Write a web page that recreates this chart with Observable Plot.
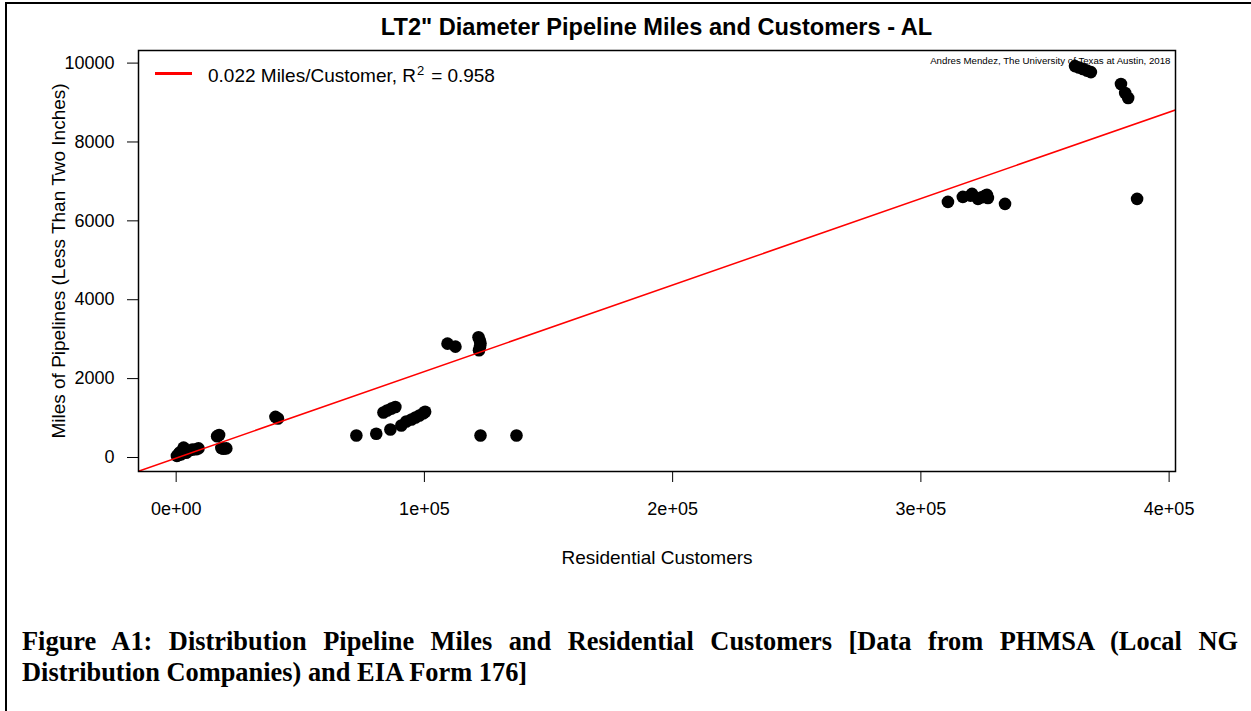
<!DOCTYPE html>
<html>
<head>
<meta charset="utf-8">
<script src="https://cdn.jsdelivr.net/npm/d3@7"></script>
<script src="https://cdn.jsdelivr.net/npm/@observablehq/plot@0.6"></script>
<style>
  html, body { margin: 0; padding: 0; background: #fff; }
  #page { position: relative; width: 1251px; height: 711px; overflow: hidden; font-family: "Liberation Sans", Arial, sans-serif; }
  #border { position: absolute; left: 5px; top: 2px; width: 1260px; height: 720px; border-left: 2px solid #000; border-top: 2px solid #000; }
  #chart { position: absolute; left: 0; top: 0; }
  #title { position: absolute; left: 138px; width: 1037px; top: 15px; line-height: 24px; text-align: center; font-weight: bold; font-size: 23.6px; white-space: nowrap; }
  #legline { position: absolute; left: 155px; top: 72px; width: 37px; height: 3px; background: #ff0000; }
  #legend { position: absolute; left: 208px; top: 65.5px; font-size: 19px; line-height: 19px; white-space: nowrap; }
  #legend sup { font-size: 13px; vertical-align: 0.5em; line-height: 0; margin-left: 1px; }
  #legend .eq { margin-left: 7px; }
  #legend .val { margin-left: 5px; }
  #caption { position: absolute; left: 22px; width: 1216px; top: 626px; font-family: "Liberation Serif", "Times New Roman", serif; font-weight: bold; font-size: 26.4px; line-height: 31px; text-align: justify; }
</style>
</head>
<body>
<div id="page">
  <div id="border"></div>
  <div id="chart"></div>
  <div id="title"></div>
  <div id="legline"></div>
  <div id="legend"><span id="legA"></span><sup id="legSup"></sup><span class="eq" id="legEq"></span><span class="val" id="legVal"></span></div>
  <div id="caption"></div>
</div>
<script>
// ---- data ----
const titleText = "LT2\" Diameter Pipeline Miles and Customers - AL";
const xLabel = "Residential Customers";
const yLabel = "Miles of Pipelines (Less Than Two Inches)";
const legendParts = ["0.022 Miles/Customer, R", "2", "=", "0.958"];
const creditText = "Andres Mendez, The University of Texas at Austin, 2018";
const captionText = "Figure A1: Distribution Pipeline Miles and Residential Customers [Data from PHMSA (Local NG Distribution Companies) and EIA Form 176]";

const customers = [
  300, 800, 1200, 1500, 2000, 2500, 3000, 3300, 4000, 5000, 6500, 8000, 9000,
  16500, 17300, 18200, 19000, 20200,
  40000, 41000,
  72600, 80600, 86300, 90700, 92700, 94800, 96400, 98000, 99600, 100300,
  83500, 85000, 86700, 88300,
  109300, 112500, 121800, 122300, 122600, 122400, 122000,
  122600, 137100,
  310900, 316900, 320000, 320600, 323000, 324500, 325800, 326600, 327000, 333900, 387100,
  362100, 363700, 365300, 366900, 368500, 380600, 382300, 383500
];
const miles = [
  40, 60, 100, 130, 80, 150, 250, 200, 120, 170, 200, 210, 230,
  540, 570, 240, 220, 230,
  1030, 990,
  557, 600, 710, 810, 911, 962, 1013, 1063, 1120, 1160,
  1139, 1190, 1240, 1280,
  2886, 2810, 3050, 2970, 2890, 2800, 2720,
  557, 557,
  6481, 6608, 6640, 6684, 6557, 6600, 6633, 6658, 6580, 6430, 6557,
  9924, 9890, 9850, 9810, 9772, 9468, 9241, 9114
];

const xTicks = [0, 100000, 200000, 300000, 400000];
const xTickLabels = ["0e+00", "1e+05", "2e+05", "3e+05", "4e+05"];
const yTicks = [0, 2000, 4000, 6000, 8000, 10000];
const yTickLabels = ["0", "2000", "4000", "6000", "8000", "10000"];

// fitted line (miles = intercept + slope * customers)
const fitSlope = 0.02193;
const fitIntercept = -15;

// ---- build ----
const points = customers.map((c, i) => ({c, m: miles[i]}));
// R-style 4% padding of the data range
const xExt = d3.extent(customers), yExt = d3.extent(miles);
const xPad = (xExt[1] - xExt[0]) * 0.04, yPad = (yExt[1] - yExt[0]) * 0.04;
const xDomain = [xExt[0] - xPad, xExt[1] + xPad];
const yDomain = [yExt[0] - yPad, yExt[1] + yPad];
const fit = xDomain.map(c => ({c, m: fitIntercept + fitSlope * c}));

const font = "'Liberation Sans', Arial, sans-serif";

const chart = Plot.plot({
  width: 1251,
  height: 600,
  marginLeft: 138,
  marginRight: 76,
  marginTop: 50,
  marginBottom: 129,
  x: {domain: xDomain},
  y: {domain: yDomain},
  style: {fontFamily: font, fontSize: "18px", background: "transparent", color: "#000", overflow: "visible"},
  marks: [
    Plot.axisX({ticks: xTicks, tickFormat: d => xTickLabels[xTicks.indexOf(d)], tickSize: 11, tickPadding: 20, fontSize: 18,
      label: xLabel, labelAnchor: "center", labelArrow: "none", labelOffset: 92, stroke: "#000", strokeWidth: 1}),
    Plot.axisY({ticks: yTicks, tickFormat: d => yTickLabels[yTicks.indexOf(d)], tickSize: 11, tickPadding: 13, fontSize: 18,
      label: yLabel, labelAnchor: "center", labelArrow: "none", labelOffset: 87, stroke: "#000", strokeWidth: 1}),
    Plot.text([creditText], {text: d => d, frameAnchor: "top-right", dx: -5, dy: 7, lineAnchor: "top", textAnchor: "end", fontSize: 9.7}),
    Plot.dot(points, {x: "c", y: "m", r: 6.3, fill: "#000", stroke: "none"}),
    Plot.line(fit, {x: "c", y: "m", stroke: "#ff0000", strokeWidth: 1.6, clip: true}),
    Plot.frame({stroke: "#000", strokeWidth: 1.5})
  ]
});
chart.querySelectorAll('[aria-label="x-axis label"], [aria-label="y-axis label"]').forEach(g => g.setAttribute("font-size", 19));
document.getElementById("chart").appendChild(chart);
document.getElementById("title").textContent = titleText;
document.getElementById("caption").textContent = captionText;
document.getElementById("legA").textContent = legendParts[0];
document.getElementById("legSup").textContent = legendParts[1];
document.getElementById("legEq").textContent = legendParts[2];
document.getElementById("legVal").textContent = legendParts[3];
</script>
</body>
</html>
